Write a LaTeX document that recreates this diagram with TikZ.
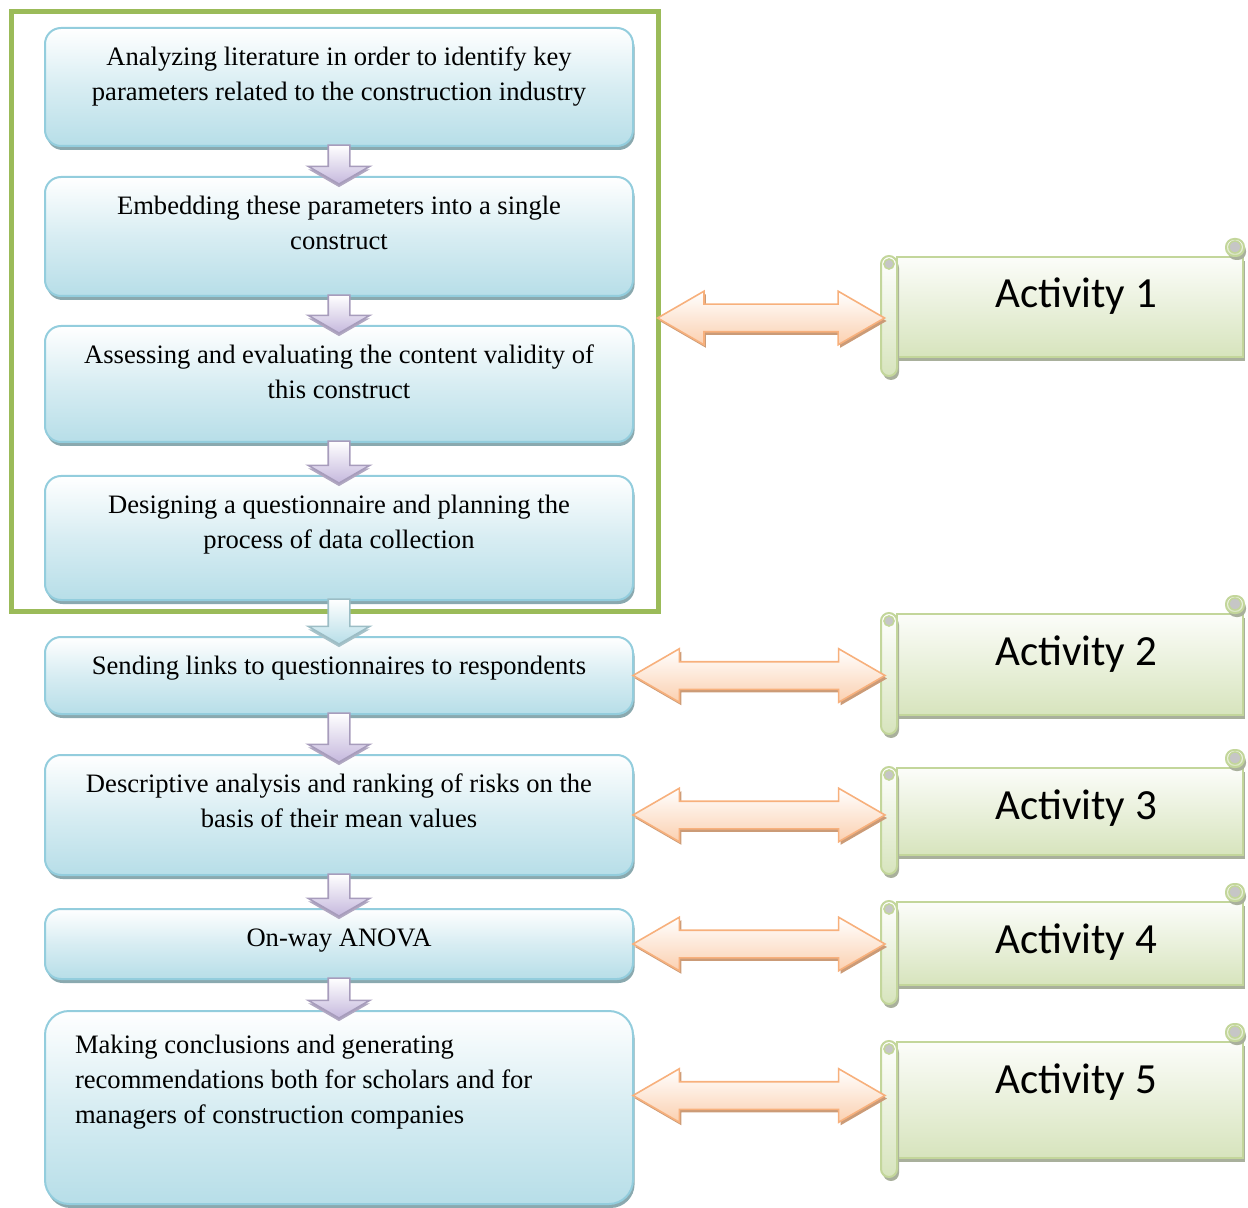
\documentclass[tikz,border=0pt]{standalone}
\usepackage{fontspec}
\setmainfont{Liberation Serif}
\newfontfamily\actfont{Carlito}
\usetikzlibrary{positioning,shapes.arrows,shadows}

\definecolor{boxline}{HTML}{93CDDD}
\definecolor{boxfill}{HTML}{B7DEE8}
\definecolor{boxshadow}{HTML}{8AA9AF}
\definecolor{framegreen}{HTML}{9BBB59}
\definecolor{scrollline}{HTML}{C3D69B}
\definecolor{scrollfill}{HTML}{D7E4BD}
\definecolor{scrollshadow}{HTML}{A9B09C}
\definecolor{linkline}{HTML}{F7B07C}
\definecolor{linkfill}{HTML}{FBD0B0}
\definecolor{linkshadow}{HTML}{CB9B77}
\definecolor{lavender}{HTML}{C5B8DD}
\definecolor{paleblue}{HTML}{B7DEE8}

\newcommand{\steptext}[2]{\parbox[c][#1][t]{282pt}{\centering\strut #2}}

\tikzset{
  stepbox/.style={rectangle, rounded corners=8pt, draw=boxline, line width=1pt,
    top color=white, bottom color=boxfill, middle color=boxfill!55,
    inner xsep=6pt, inner ysep=6.5pt, font=\fontsize{13.3}{17.5}\selectfont,
    drop shadow={shadow xshift=0.8pt, shadow yshift=-2pt, fill=boxshadow, opacity=1}},
  flowarrow/.style={single arrow, shape border rotate=270, single arrow tip angle=120,
    single arrow head extend=10pt, inner sep=5pt, draw=#1!85!black, line width=0.8pt,
    top color=white, bottom color=#1,
    drop shadow={shadow xshift=0pt, shadow yshift=-1.5pt, fill=#1!70!gray, opacity=1}},
  linkarrow/.style={double arrow, double arrow tip angle=60, double arrow head extend=6.5pt,
    inner sep=6.5pt, draw=linkline, line width=0.8pt, top color=white, bottom color=linkfill,
    drop shadow={shadow xshift=1pt, shadow yshift=-1.5pt, fill=linkshadow, opacity=1}},
  actbox/.style={rectangle, draw=scrollline, line width=1pt, top color=white!60!scrollfill!20,
    bottom color=scrollfill, minimum width=173pt, inner ysep=0pt, text height=25.5pt,
    font=\actfont\fontsize{21.5}{25}\selectfont,
    drop shadow={shadow xshift=1pt, shadow yshift=-2pt, fill=scrollshadow, opacity=1}},
  actroll/.style={draw=scrollline, line width=1pt, rounded corners=4pt,
    top color=white, bottom color=scrollfill,
    drop shadow={shadow xshift=1pt, shadow yshift=-2pt, fill=scrollshadow, opacity=1}},
  actcurl/.style={draw=scrollline, line width=0.8pt, fill=gray!45},
  frame/.style={draw=framegreen, line width=2.5pt}
}

\begin{document}
\begin{tikzpicture}[x=0.5pt,y=-0.5pt]
 \useasboundingbox (0,0) rectangle (1248,1208);

 \draw[frame] (11,12) rectangle (658,611);
 \coordinate (grpE) at (658,318);

 \node[stepbox] (b1) at (339,87)
   {\steptext{46pt}{Analyzing literature in order to identify key\\ parameters related to the construction industry}};
 \node[stepbox] (b2) [below=14.5pt of b1]
   {\steptext{46.5pt}{Embedding these parameters into a single\\ construct}};
 \node[stepbox] (b3) [below=14pt of b2]
   {\steptext{45pt}{Assessing and evaluating the content validity of\\ this construct}};
 \node[stepbox] (b4) [below=16pt of b3]
   {\steptext{49pt}{Designing a questionnaire and planning the\\ process of data collection}};
 \node[stepbox] (b5) [below=17.5pt of b4]
   {\steptext{25.5pt}{Sending links to questionnaires to respondents}};
 \node[stepbox] (b6) [below=19.5pt of b5]
   {\steptext{47pt}{Descriptive analysis and ranking of risks on the\\ basis of their mean values}};
 \node[stepbox] (b7) [below=16pt of b6]
   {\steptext{22pt}{On-way ANOVA}};
 \node[stepbox, inner xsep=15pt, rounded corners=12pt] (b8) [below=15pt of b7]
   {\parbox[c][83.5pt][t]{264pt}{\vspace*{2.5pt}\raggedright\strut Making conclusions and generating\\
     recommendations both for scholars and for\\ managers of construction companies}};

 % down arrows between the steps
 \foreach \a/\b/\c/\l in {b1/b2/lavender/19.5pt, b2/b3/lavender/19pt, b3/b4/lavender/21pt,
                          b4/b5/paleblue/22.5pt, b5/b6/lavender/24.5pt, b6/b7/lavender/21pt,
                          b7/b8/lavender/20pt}
   \path (\a.south) -- (\b.north) node[midway, flowarrow=\c, minimum height=\l] {};

 % activity scrolls
 \foreach \i/\ypos/\h/\d in {1/307/50pt/24.5pt, 2/664.5/50.5pt/25pt, 3/811.5/43.5pt/18pt,
                             4/943.5/41.5pt/16pt, 5/1100/58pt/32.5pt} {
   \node[actbox, minimum height=\h, text depth=\d] (act\i) at (1070,\ypos) {\hspace*{6pt}Activity \i};
   \draw[actroll] ([xshift=-9pt]act\i.north east) rectangle ([yshift=8.5pt]act\i.north east);
   \draw[actroll] ([xshift=-7.5pt]act\i.north west) rectangle ([xshift=0.5pt,yshift=-9pt]act\i.south west);
   \draw[actcurl] ([xshift=-3.5pt,yshift=-4pt]act\i.north west) circle (2.5pt);
   \draw[actcurl] ([xshift=-4.5pt,yshift=4.5pt]act\i.north east) circle (3pt);
 }

 % links to the activities
 \path (grpE) -- (grpE -| act1.west) node[pos=0.475, linkarrow, minimum height=113.5pt] {};
 \foreach \b/\a/\s in {b5/act2/0pt, b6/act3/0pt, b7/act4/0pt, b8/act5/6pt}
   \path ([yshift=\s]\b.east) -- ([yshift=\s]\b.east -| \a.west)
     node[pos=0.477, linkarrow, minimum height=126pt] {};
\end{tikzpicture}
\end{document}
